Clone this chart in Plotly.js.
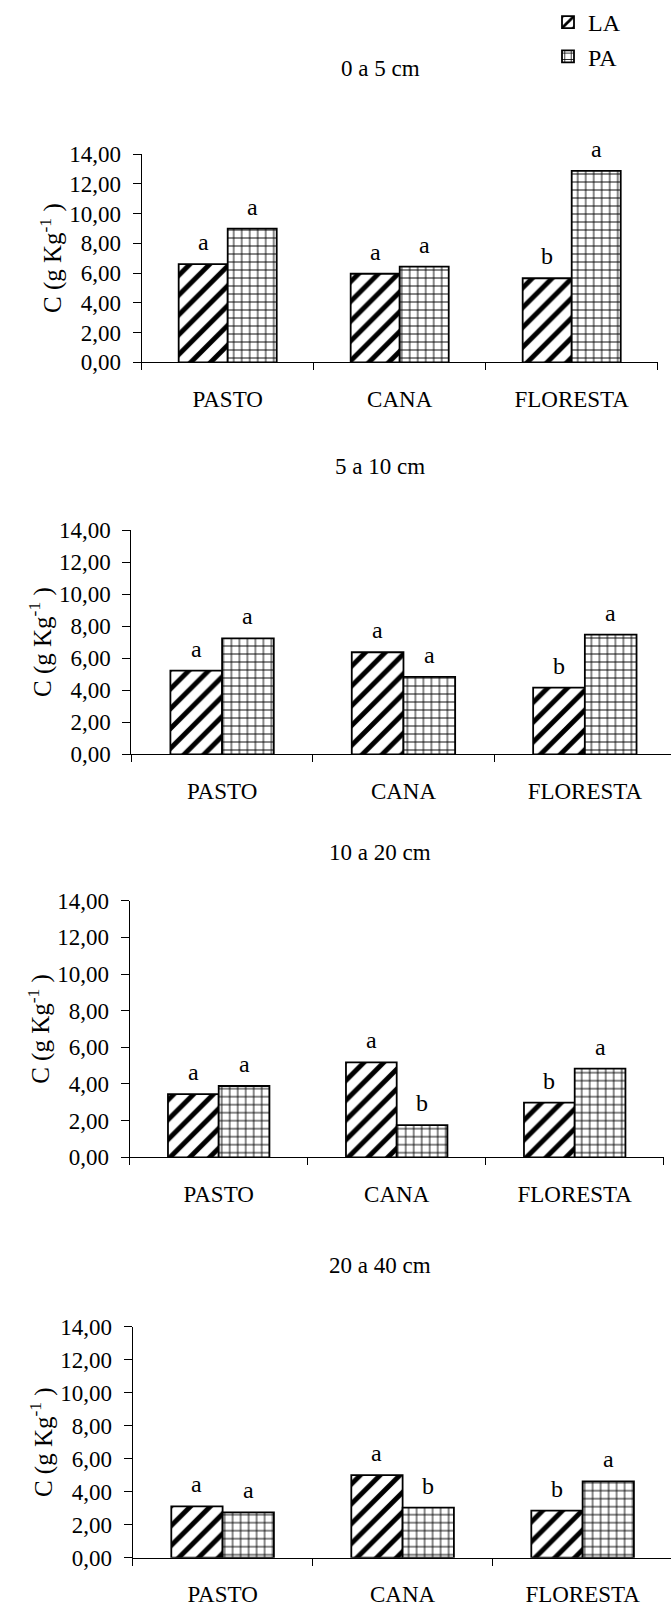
<!DOCTYPE html>
<html><head><meta charset="utf-8">
<script src="https://cdn.plot.ly/plotly-3.0.1.min.js"></script>
<style>html,body{margin:0;padding:0;background:#fff}#chart{width:671px;height:1606px}</style>
</head><body><div id="chart"></div>
<script>
// ---- data ----
const categories = ['PASTO', 'CANA', 'FLORESTA'];
const depths = ['0 a 5 cm', '5 a 10 cm', '10 a 20 cm', '20 a 40 cm'];
const seriesNames = ['LA', 'PA'];
const la_0_5   = [6.60, 5.95, 5.65];
const pa_0_5   = [8.98, 6.43, 12.86];
const la_5_10  = [5.22, 6.37, 4.16];
const pa_5_10  = [7.24, 4.83, 7.47];
const la_10_20 = [3.45, 5.18, 2.98];
const pa_10_20 = [3.89, 1.76, 4.84];
const la_20_40 = [3.11, 5.01, 2.85];
const pa_20_40 = [2.75, 3.03, 4.63];
const laLetters_0_5   = ['a', 'a', 'b'];
const paLetters_0_5   = ['a', 'a', 'a'];
const laLetters_5_10  = ['a', 'a', 'b'];
const paLetters_5_10  = ['a', 'a', 'a'];
const laLetters_10_20 = ['a', 'a', 'b'];
const paLetters_10_20 = ['a', 'b', 'a'];
const laLetters_20_40 = ['a', 'a', 'b'];
const paLetters_20_40 = ['a', 'b', 'a'];
const yTickVals = [0, 2, 4, 6, 8, 10, 12, 14];

const laAll = [la_0_5, la_5_10, la_10_20, la_20_40];
const paAll = [pa_0_5, pa_5_10, pa_10_20, pa_20_40];
const laLet = [laLetters_0_5, laLetters_5_10, laLetters_10_20, laLetters_20_40];
const paLet = [paLetters_0_5, paLetters_5_10, paLetters_10_20, paLetters_20_40];

// ---- layout geometry (pixels of a 671x1606 page) ----
const W = 671, H = 1606;
const panels = [
  {top: 154,   bottom: 362.3,  left: 141.7, right: 657.7, xEnd: 2.5},
  {top: 530,   bottom: 754.3,  left: 131.4, right: 671,   xEnd: 2.475},
  {top: 900.7, bottom: 1157.3, left: 129.7, right: 663.7, xEnd: 2.5},
  {top: 1326.7,bottom: 1557.7, left: 132.6, right: 671,   xEnd: 2.491}
];
const titleY = [69, 466, 852, 1265];
const titleX = 380;
const bargap = 0.43;
const FONT = 'Liberation Serif, Times New Roman, serif';

const traces = [];
const annotations = [];
const layout = {
  width: W, height: H,
  margin: {l: 0, r: 0, t: 0, b: 0},
  paper_bgcolor: '#fff', plot_bgcolor: 'rgba(0,0,0,0)',
  font: {family: FONT, size: 23, color: '#000'},
  separators: ',.',
  barmode: 'group', bargap: bargap, bargroupgap: 0,
  showlegend: true,
  legend: {x: 548 / W, y: 1, xanchor: 'left', yanchor: 'top',
           font: {family: FONT, size: 24, color: '#000'}, tracegroupgap: 0,
           bgcolor: 'rgba(0,0,0,0)', itemwidth: 30},
  annotations: annotations
};

const patternLA = {shape: '/', fgcolor: '#000', bgcolor: '#fff', size: 14, solidity: 0.35, fillmode: 'replace'};
const patternPA = {shape: '+', fgcolor: '#000', bgcolor: '#fff', size: 8, solidity: 0.22, fillmode: 'replace'};

panels.forEach((p, i) => {
  const sfx = i === 0 ? '' : String(i + 1);
  const xa = 'x' + sfx, ya = 'y' + sfx;
  traces.push({
    type: 'bar', name: seriesNames[0], x: categories, y: laAll[i], xaxis: xa, yaxis: ya,
    legendgroup: 'bars', showlegend: i === 0,
    marker: {color: '#fff', line: {color: '#000', width: 1.8}, pattern: patternLA},
    hoverinfo: 'skip'
  });
  traces.push({
    type: 'bar', name: seriesNames[1], x: categories, y: paAll[i], xaxis: xa, yaxis: ya,
    legendgroup: 'bars', showlegend: i === 0,
    marker: {color: '#fff', line: {color: '#000', width: 1.8}, pattern: patternPA},
    hoverinfo: 'skip'
  });
  layout['xaxis' + sfx] = {
    domain: [p.left / W, p.right / W], anchor: ya,
    type: 'category', categoryarray: categories, range: [-0.5, p.xEnd],
    showline: true, linecolor: '#000', linewidth: 1,
    ticks: 'outside', tickson: 'boundaries', ticklen: 7, tickcolor: '#000', tickwidth: 1,
    ticklabelstandoff: 16,
    showgrid: false, zeroline: false, fixedrange: true,
    tickfont: {family: FONT, size: 23, color: '#000'}
  };
  layout['yaxis' + sfx] = {
    domain: [1 - p.bottom / H, 1 - p.top / H], anchor: xa,
    range: [0, 14], tickvals: yTickVals, tickformat: '.2f',
    showline: true, linecolor: '#000', linewidth: 1,
    ticks: 'outside', ticklen: 8, tickcolor: '#000', tickwidth: 1,
    ticklabelstandoff: 7,
    showgrid: false, zeroline: false, fixedrange: true,
    tickfont: {family: FONT, size: 23, color: '#000'},
    title: {text: 'C (g Kg<sup>-1</sup> )', font: {family: FONT, size: 25, color: '#000'}, standoff: 0}
  };
  // panel title
  annotations.push({xref: 'paper', yref: 'paper', x: titleX / W, y: 1 - titleY[i] / H,
    text: depths[i], showarrow: false, xanchor: 'center', yanchor: 'middle',
    font: {family: FONT, size: 23, color: '#000'}});
  // significance letters above bars
  const off = (1 - bargap) / 4;
  categories.forEach((c, j) => {
    annotations.push({xref: xa, yref: ya, x: j - off, y: laAll[i][j], text: laLet[i][j],
      showarrow: false, yanchor: 'middle', yshift: 22, font: {family: FONT, size: 24, color: '#000'}});
    annotations.push({xref: xa, yref: ya, x: j + off, y: paAll[i][j], text: paLet[i][j],
      showarrow: false, yanchor: 'middle', yshift: 22, font: {family: FONT, size: 24, color: '#000'}});
  });
});

Plotly.newPlot('chart', traces, layout, {staticPlot: true, displayModeBar: false});
</script>
</body></html>
